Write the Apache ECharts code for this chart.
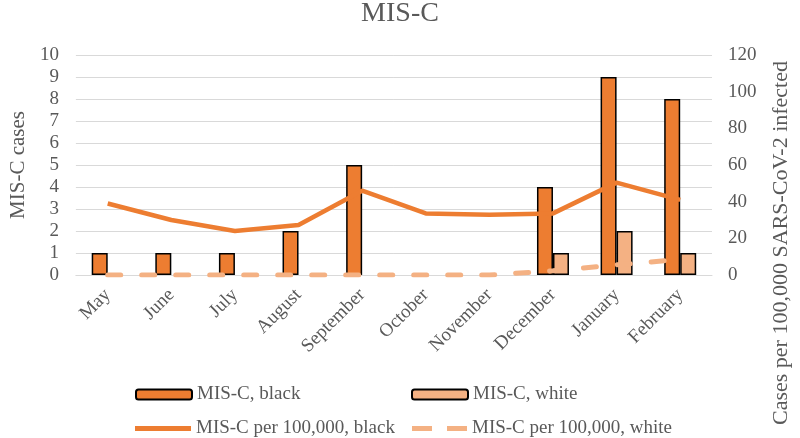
<!DOCTYPE html>
<html>
<head>
<meta charset="utf-8">
<script src="https://cdn.jsdelivr.net/npm/echarts@6/dist/echarts.min.js"></script>
<style>html,body{margin:0;padding:0;background:#fff}#c{width:800px;height:438px}</style>
</head>
<body>
<div id="c"></div>
<script>
var months = ['May','June','July','August','September','October','November','December','January','February'];
var casesBlack = [1,1,1,2,5,0,0,4,9,8];
var casesWhite = [0,0,0,0,0,0,0,1,2,1];
var rateBlack = [39,30,24,27.3,46,33.6,32.8,33.6,50.4,41];
var rateWhite = [0,0,0,0,0,0,0,2.3,5.5,8.5];
var leftTicks = [0,10,1];
var rightTicks = [0,120,20];

var FONT = 'Liberation Serif';
var GRAY = '#595959';
var DARK = '#ED7D31';
var LIGHT = '#F4B183';
var legText = {fontFamily: FONT, fontSize: 19, color: GRAY};
function hideZero(arr) { return arr.map(function (v) { return v === 0 ? null : v; }); }

var chart = echarts.init(document.getElementById('c'));
chart.setOption({
  animation: false,
  title: {text: 'MIS-C', left: 'center', top: -5, textStyle: {fontFamily: FONT, fontSize: 28, fontWeight: 'normal', color: GRAY}},
  grid: {left: 62, right: 78, top: 55, bottom: 163},
  legend: [
    {data: ['MIS-C, black'], left: 130, top: 380, itemWidth: 56, itemHeight: 10, textStyle: legText},
    {data: ['MIS-C, white'], left: 406, top: 380, itemWidth: 56, itemHeight: 10, textStyle: legText},
    {data: [{name: 'MIS-C per 100,000, black', icon: 'path://M0,0H56V5H0Z'}], left: 130, top: 414, itemWidth: 56, itemHeight: 5, textStyle: legText},
    {data: [{name: 'MIS-C per 100,000, white', icon: 'path://M0,0H20V5H0Z M35,0H55V5H35Z'}], left: 407, top: 414, itemWidth: 55, itemHeight: 5, textStyle: legText}
  ],
  xAxis: {
    type: 'category', data: months,
    axisLine: {lineStyle: {color: '#d9d9d9'}}, axisTick: {show: false},
    axisLabel: {rotate: 45, fontFamily: FONT, fontSize: 19, color: GRAY, margin: 17, interval: 0}
  },
  yAxis: [
    {type: 'value', min: leftTicks[0], max: leftTicks[1], interval: leftTicks[2],
     name: 'MIS-C cases', nameLocation: 'middle', nameGap: 45, nameTextStyle: {fontFamily: FONT, fontSize: 21, color: GRAY},
     axisLabel: {fontFamily: FONT, fontSize: 19, color: GRAY, margin: 17},
     splitLine: {lineStyle: {color: '#d9d9d9', width: 1}}, axisLine: {show: false}, axisTick: {show: false}},
    {type: 'value', min: rightTicks[0], max: rightTicks[1], interval: rightTicks[2],
     name: 'Cases per 100,000 SARS-CoV-2 infected', nameLocation: 'middle', nameGap: 58, nameRotate: 90,
     nameTextStyle: {fontFamily: FONT, fontSize: 22, color: GRAY, padding: [0, 156, 0, 0]},
     axisLabel: {fontFamily: FONT, fontSize: 19, color: GRAY, margin: 16},
     splitLine: {show: false}, axisLine: {show: false}, axisTick: {show: false}}
  ],
  series: [
    {name: 'MIS-C, black', type: 'bar', data: hideZero(casesBlack), barWidth: 16, barGap: '0%',
     itemStyle: {color: DARK, borderColor: '#000', borderWidth: 1.5}},
    {name: 'MIS-C, white', type: 'bar', data: hideZero(casesWhite), barWidth: 16, barGap: '0%',
     itemStyle: {color: LIGHT, borderColor: '#000', borderWidth: 1.5}},
    {name: 'MIS-C per 100,000, black', type: 'line', yAxisIndex: 1, data: rateBlack, symbol: 'none',
     lineStyle: {color: DARK, width: 4.5}, itemStyle: {color: DARK}},
    {name: 'MIS-C per 100,000, white', type: 'line', yAxisIndex: 1, data: rateWhite, symbol: 'none',
     lineStyle: {color: LIGHT, width: 5, type: [13, 21], cap: 'round'}, itemStyle: {color: LIGHT}}
  ]
});
</script>
</body>
</html>
